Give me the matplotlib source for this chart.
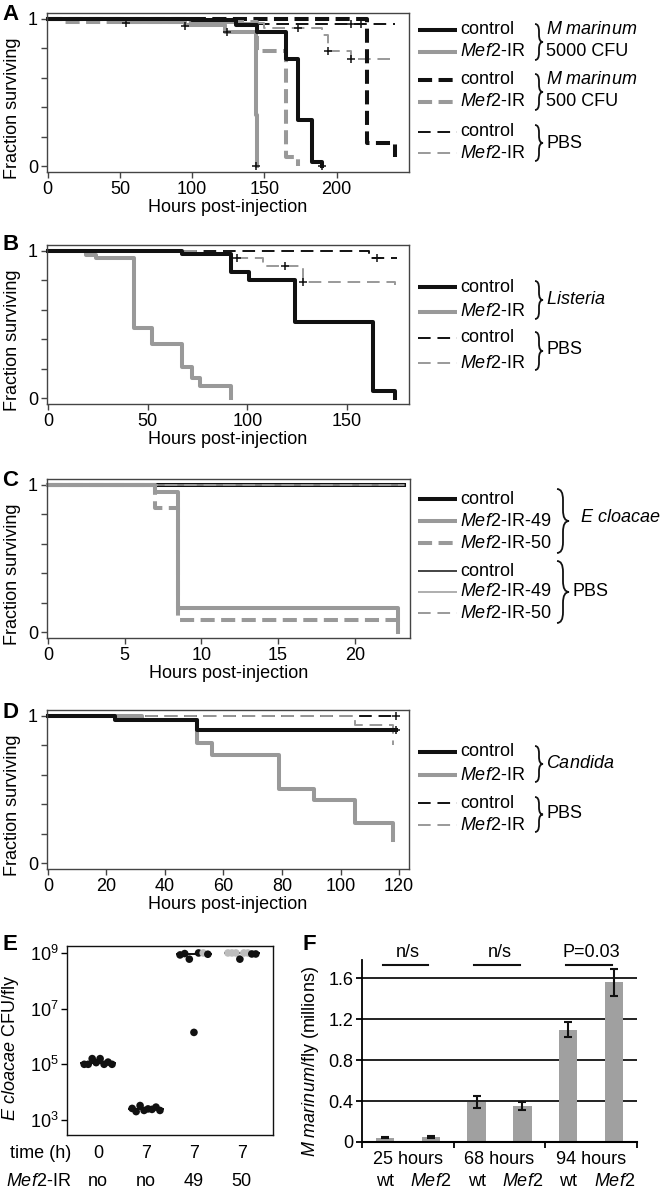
import numpy as np
import matplotlib
matplotlib.use('Agg')
import matplotlib.pyplot as plt
from matplotlib.path import Path
from matplotlib.patches import PathPatch
from matplotlib.ticker import FixedLocator, NullLocator
import matplotlib.transforms as mtransforms

plt.rcParams['font.family'] = ['Liberation Sans', 'DejaVu Sans']
plt.rcParams['font.size'] = 13
plt.rcParams['mathtext.fontset'] = 'custom'
plt.rcParams['mathtext.rm'] = 'Liberation Sans'
plt.rcParams['mathtext.it'] = 'Liberation Sans:italic'
plt.rcParams['mathtext.bf'] = 'Liberation Sans:bold'

# ---- Panel A: M marinum survival (hours, fraction surviving)
a_ctrl5000_t = [0, 100, 130, 145, 165, 173, 183, 190]
a_ctrl5000_s = [1.0, 0.99, 0.96, 0.91, 0.73, 0.31, 0.03, 0.0]
a_mef5000_t = [0, 50, 95, 123, 144, 145]
a_mef5000_s = [1.0, 0.98, 0.96, 0.91, 0.35, 0.0]
a_ctrl500_t = [0, 221, 240]
a_ctrl500_s = [1.0, 0.155, 0.06]
a_mef500_t = [0, 10, 145, 165, 173]
a_mef500_s = [1.0, 0.98, 0.78, 0.065, 0.0]
a_ctrlpbs_t = [0, 130, 240]
a_ctrlpbs_s = [1.0, 0.965, 0.965]
a_mefpbs_t = [0, 100, 150, 190, 194, 210, 237]
a_mefpbs_s = [1.0, 0.97, 0.935, 0.89, 0.78, 0.73, 0.73]
a_cens_t = [54, 95, 124, 144, 173, 190, 194, 210, 217, 210]
a_cens_s = [0.97, 0.955, 0.91, 0.0, 0.935, 0.0, 0.78, 0.965, 0.965, 0.73]

# ---- Panel B: Listeria
b_ctrl_t = [0, 67, 92, 101, 124, 163, 174]
b_ctrl_s = [1.0, 0.98, 0.855, 0.80, 0.52, 0.05, 0.0]
b_mef_t = [0, 19, 24, 43, 52, 67, 72, 76, 92]
b_mef_s = [1.0, 0.975, 0.95, 0.475, 0.37, 0.21, 0.14, 0.08, 0.0]
b_ctrlpbs_t = [0, 161, 175]
b_ctrlpbs_s = [1.0, 0.95, 0.95]
b_mefpbs_t = [0, 75, 92, 108, 128, 174]
b_mefpbs_s = [1.0, 0.98, 0.95, 0.90, 0.79, 0.77]
b_cens_t = [95, 119, 128, 165]
b_cens_s = [0.95, 0.90, 0.79, 0.95]

# ---- Panel C: E cloacae
c_ctrl_t = [0, 23.2]
c_ctrl_s = [1.0, 1.0]
c_mef49_t = [0, 7, 8.5, 22.8]
c_mef49_s = [1.0, 0.955, 0.165, 0.0]
c_mef50_t = [0, 7, 8.5, 22.8]
c_mef50_s = [1.0, 0.84, 0.08, 0.0]
c_pbs_t = [0, 23.2]
c_pbs_s = [1.0, 1.0]

# ---- Panel D: Candida
d_ctrl_t = [0, 23, 51, 119]
d_ctrl_s = [1.0, 0.97, 0.905, 0.905]
d_mef_t = [0, 32, 51, 56, 79, 91, 105, 118]
d_mef_s = [1.0, 0.97, 0.815, 0.735, 0.505, 0.43, 0.27, 0.16]
d_ctrlpbs_t = [0, 119]
d_ctrlpbs_s = [1.0, 1.0]
d_mefpbs_t = [0, 105, 118]
d_mefpbs_s = [1.0, 0.935, 0.80]
d_cens_t = [119, 119]
d_cens_s = [1.0, 0.905]

# ---- Panel E: CFU per fly
e_time = ['0', '7', '7', '7']
e_mef2 = ['no', 'no', '49', '50']
e_values = [
    [1.0e5, 1.0e5, 1.6e5, 1.15e5, 1.6e5, 1.0e5, 1.2e5, 1.0e5],
    [2.6e3, 2.0e3, 3.3e3, 2.2e3, 2.5e3, 2.4e3, 2.9e3, 2.2e3],
    [8.5e8, 9.5e8, 6.0e8, 1.4e6, 1.0e9, 1.0e9, 9.0e8],
    [1.0e9, 1.0e9, 1.0e9, 6.0e8, 1.0e9, 1.0e9, 9.2e8, 9.2e8],
]
e_shade = [
    ['k'] * 8,
    ['k'] * 8,
    ['k', 'k', 'k', 'k', 'k', 'g', 'k'],
    ['g', 'g', 'g', 'k', 'g', 'g', 'k', 'k'],
]

# ---- Panel F: M marinum load
f_groups = ['25 hours', '68 hours', '94 hours']
f_genotypes = ['wt', 'Mef2', 'wt', 'Mef2', 'wt', 'Mef2']
f_means = [0.04, 0.05, 0.39, 0.35, 1.10, 1.56]
f_errs = [0.005, 0.008, 0.06, 0.04, 0.075, 0.13]
f_sig = [(0, 1, 'n/s'), (2, 3, 'n/s'), (4, 5, 'P=0.03')]

BLACK = '#111111'
GRAY = '#999999'
FRAME = '#444444'
STYLES = {
    'thick': dict(lw=2.9, ls='-'),
    'thickdash': dict(lw=2.9, ls=(0, (3.5, 1.6))),
    'thindash': dict(lw=1.4, ls=(0, (6.5, 3.5))),
    'thin': dict(lw=1.1, ls='-'),
}
W, H = 661, 1194


def px_axes(fig, left, top, right, bottom):
    return fig.add_axes([left / W, 1 - bottom / H, (right - left) / W, (bottom - top) / H])


def curve(ax, t, s, color, kind):
    ax.step(t, s, where='post', color=color, clip_on=False, **STYLES[kind])


def survival_axes(ax, xlim, xticks):
    ax.set_xlim(*xlim)
    ax.set_ylim(-0.04, 1.04)
    ax.set_xticks(xticks)
    ax.set_yticks([0, 1])
    ax.set_yticklabels(['0', '1'])
    ax.yaxis.set_minor_locator(FixedLocator([0.2, 0.4, 0.6, 0.8]))
    ax.xaxis.set_minor_locator(NullLocator())
    ax.tick_params(which='both', direction='out', length=4, width=1, color=FRAME, pad=2.5)
    for sp in ax.spines.values():
        sp.set_color(FRAME)
        sp.set_linewidth(1)
    ax.set_xlabel('Hours post-injection', labelpad=1)
    ax.set_ylabel('Fraction surviving')
    ax.yaxis.set_label_coords(-0.072, 0.40)


def brace(ov, x, y0, y1, w):
    ym = (y0 + y1) / 2
    xm = x + w / 2
    r = min(w * 0.9, (y1 - y0) / 4)
    verts = [(x, y0), (xm, y0), (xm, y0 + r), (xm, ym - r), (xm, ym), (x + w, ym),
             (xm, ym), (xm, ym + r), (xm, y1 - r), (xm, y1), (x, y1)]
    codes = [Path.MOVETO, Path.CURVE3, Path.CURVE3, Path.LINETO, Path.CURVE3, Path.CURVE3,
             Path.CURVE3, Path.CURVE3, Path.LINETO, Path.CURVE3, Path.CURVE3]
    ov.add_patch(PathPatch(Path(verts, codes), fill=False, lw=1.3, color=BLACK))


def legend_rows(ov, rows):
    for y, label, color, kind in rows:
        ov.plot([418, 457], [y, y], color=color, solid_capstyle='butt', **STYLES[kind])
        ov.text(460, y, label, va='center', ha='left')


MEF = r'$\it{Mef2}$-IR'

fig = plt.figure(figsize=(W / 100, H / 100), dpi=100)

# ---------------- A
ax = px_axes(fig, 47, 13, 409, 172)
curve(ax, a_ctrlpbs_t, a_ctrlpbs_s, BLACK, 'thindash')
curve(ax, a_mefpbs_t, a_mefpbs_s, GRAY, 'thindash')
curve(ax, a_ctrl500_t, a_ctrl500_s, BLACK, 'thickdash')
curve(ax, a_mef500_t, a_mef500_s, GRAY, 'thickdash')
curve(ax, a_mef5000_t, a_mef5000_s, GRAY, 'thick')
curve(ax, a_ctrl5000_t, a_ctrl5000_s, BLACK, 'thick')
ax.plot(a_cens_t, a_cens_s, '+', color=BLACK, ms=6, mew=1.1, clip_on=False)
survival_axes(ax, (-0.5, 250), [0, 50, 100, 150, 200])

# ---------------- B
ax = px_axes(fig, 47, 245, 409, 404)
curve(ax, b_ctrlpbs_t, b_ctrlpbs_s, BLACK, 'thindash')
curve(ax, b_mefpbs_t, b_mefpbs_s, GRAY, 'thindash')
curve(ax, b_mef_t, b_mef_s, GRAY, 'thick')
curve(ax, b_ctrl_t, b_ctrl_s, BLACK, 'thick')
ax.plot(b_cens_t, b_cens_s, '+', color=BLACK, ms=6, mew=1.1, clip_on=False)
survival_axes(ax, (-0.5, 181), [0, 50, 100, 150])

# ---------------- C
ax = px_axes(fig, 47, 479, 410, 638)
curve(ax, c_ctrl_t, c_ctrl_s, BLACK, 'thick')
curve(ax, c_pbs_t, c_pbs_s, BLACK, 'thin')
curve(ax, c_pbs_t, c_pbs_s, GRAY, 'thin')
curve(ax, c_pbs_t, c_pbs_s, GRAY, 'thindash')
curve(ax, c_mef49_t, c_mef49_s, GRAY, 'thick')
curve(ax, c_mef50_t, c_mef50_s, GRAY, 'thickdash')
survival_axes(ax, (-0.07, 23.6), [0, 5, 10, 15, 20])

# ---------------- D
ax = px_axes(fig, 47, 710, 409, 869)
curve(ax, d_ctrlpbs_t, d_ctrlpbs_s, BLACK, 'thindash')
curve(ax, d_mefpbs_t, d_mefpbs_s, GRAY, 'thindash')
curve(ax, d_mef_t, d_mef_s, GRAY, 'thick')
curve(ax, d_ctrl_t, d_ctrl_s, BLACK, 'thick')
ax.plot(d_cens_t, d_cens_s, '+', color=BLACK, ms=6, mew=1.1, clip_on=False)
survival_axes(ax, (-0.3, 123.4), [0, 20, 40, 60, 80, 100, 120])

# ---------------- E
ax = px_axes(fig, 67, 946, 273, 1135)
ax.set_yscale('log')
for i, (vals, shade) in enumerate(zip(e_values, e_shade)):
    xs = i + np.linspace(-0.29, 0.29, len(vals))
    cols = [BLACK if c == 'k' else '#bdbdbd' for c in shade]
    ax.scatter(xs, vals, s=30, c=cols, edgecolors='none', zorder=3)
    med = np.median(vals)
    ax.plot([i - 0.36, i + 0.36], [med, med], color=BLACK, lw=1.4, zorder=2)
ax.set_xlim(-0.65, 3.65)
ax.set_ylim(10 ** 2.46, 10 ** 9.25)
ax.set_yticks([1e3, 1e5, 1e7, 1e9])
ax.yaxis.set_minor_locator(NullLocator())
ax.set_xticks([])
ax.tick_params(axis='y', direction='out', length=4, width=1, pad=2)
for sp in ax.spines.values():
    sp.set_color(BLACK)
    sp.set_linewidth(1)
ax.set_ylabel(r'$\it{E\ cloacae}$ CFU/fly')
ax.yaxis.set_label_coords(-0.223, 0.46)
trans = mtransforms.blended_transform_factory(ax.transData, ax.transAxes)
for i, (tl, ml) in enumerate(zip(e_time, e_mef2)):
    ax.annotate(tl, (i, 0), xycoords=trans, xytext=(0, -18), textcoords='offset pixels',
                ha='center', va='center')
    ax.annotate(ml, (i, 0), xycoords=trans, xytext=(0, -46), textcoords='offset pixels',
                ha='center', va='center')
ax.annotate('time (h)', (0.02, 0), xycoords='axes fraction', xytext=(0, -18),
            textcoords='offset pixels', ha='right', va='center')
ax.annotate(MEF, (0.02, 0), xycoords='axes fraction', xytext=(0, -46),
            textcoords='offset pixels', ha='right', va='center')

# ---------------- F
ax = px_axes(fig, 362, 960, 637, 1142)
xb = np.arange(len(f_means))
ax.set_axisbelow(True)
ax.yaxis.grid(True, color=BLACK, lw=1.3)
ax.bar(xb, f_means, width=0.4, color='#a0a0a0', yerr=f_errs,
       error_kw=dict(ecolor=BLACK, elinewidth=1.5, capsize=3, capthick=1.5), zorder=2)
ax.set_xlim(-0.5, 5.5)
ax.set_ylim(0, 1.78)
ax.set_yticks([0, 0.4, 0.8, 1.2, 1.6])
ax.set_yticklabels(['0', '0.4', '0.8', '1.2', '1.6'])
ax.set_xticks([-0.5, 1.5, 3.5, 5.5])
ax.set_xticklabels([])
ax.tick_params(direction='out', length=4, width=1.3, pad=2)
ax.spines['top'].set_visible(False)
ax.spines['right'].set_visible(False)
ax.spines['left'].set_linewidth(1.3)
ax.spines['bottom'].set_linewidth(1.5)
for i, j, lab in f_sig:
    ax.plot([i - 0.05, j - 0.05], [1.73, 1.73], color=BLACK, lw=1.5, clip_on=False)
    ax.text((i + j) / 2, 1.85, lab, ha='center', va='center', clip_on=False)
trans = mtransforms.blended_transform_factory(ax.transData, ax.transAxes)
for k, g in enumerate(f_groups):
    ax.annotate(g, (2 * k + 0.5, 0), xycoords=trans, xytext=(0, -18),
                textcoords='offset pixels', ha='center', va='center')
for k, g in enumerate(f_genotypes):
    lab = r'$\it{Mef2}$' if g == 'Mef2' else g
    ax.annotate(lab, (k, 0), xycoords=trans, xytext=(0, -40),
                textcoords='offset pixels', ha='center', va='center')
ax.set_ylabel(r'$\it{M\ marinum}$/fly (millions)')
ax.yaxis.set_label_coords(-0.149, 0.44)

# ---------------- overlay: legends, braces, panel letters
ov = fig.add_axes([0, 0, 1, 1])
ov.set_xlim(0, W)
ov.set_ylim(H, 0)
ov.axis('off')

legend_rows(ov, [(30, 'control', BLACK, 'thick'), (52, MEF, GRAY, 'thick'),
                 (80, 'control', BLACK, 'thickdash'), (102, MEF, GRAY, 'thickdash'),
                 (132, 'control', BLACK, 'thindash'), (153, MEF, GRAY, 'thindash')])
for y0, y1 in [(24, 60), (74, 110), (125, 161)]:
    brace(ov, 535, y0, y1, 8)
ov.text(546, 30, r'$\it{M\ marinum}$', va='center')
ov.text(546, 52, '5000 CFU', va='center')
ov.text(546, 80, r'$\it{M\ marinum}$', va='center')
ov.text(546, 102, '500 CFU', va='center')
ov.text(546, 143, 'PBS', va='center')

legend_rows(ov, [(287, 'control', BLACK, 'thick'), (312, MEF, GRAY, 'thick'),
                 (338, 'control', BLACK, 'thindash'), (363, MEF, GRAY, 'thindash')])
brace(ov, 535, 281, 319, 8)
brace(ov, 535, 332, 370, 8)
ov.text(546, 300, r'$\it{Listeria}$', va='center')
ov.text(546, 350, 'PBS', va='center')

legend_rows(ov, [(499, 'control', BLACK, 'thick'), (521, MEF + '-49', GRAY, 'thick'),
                 (543, MEF + '-50', GRAY, 'thickdash'), (571, 'control', BLACK, 'thin'),
                 (592, MEF + '-49', GRAY, 'thin'), (613, MEF + '-50', GRAY, 'thindash')])
brace(ov, 557, 489, 553, 12)
brace(ov, 557, 561, 623, 12)
ov.text(580, 518, r'$\it{E\ cloacae}$', va='center')
ov.text(572, 592, 'PBS', va='center')

legend_rows(ov, [(752, 'control', BLACK, 'thick'), (775, MEF, GRAY, 'thick'),
                 (803, 'control', BLACK, 'thindash'), (825, MEF, GRAY, 'thindash')])
brace(ov, 535, 746, 782, 8)
brace(ov, 535, 797, 832, 8)
ov.text(546, 763, r'$\it{Candida}$', va='center')
ov.text(546, 813, 'PBS', va='center')

for lab, x, y in [('A', 2, 15), ('B', 2, 245), ('C', 2, 480), ('D', 2, 713),
                  ('E', 2, 945), ('F', 302, 945)]:
    ov.text(x, y, lab, fontsize=16, fontweight='bold', va='center', ha='left')

fig.savefig('out.png', dpi=100)
